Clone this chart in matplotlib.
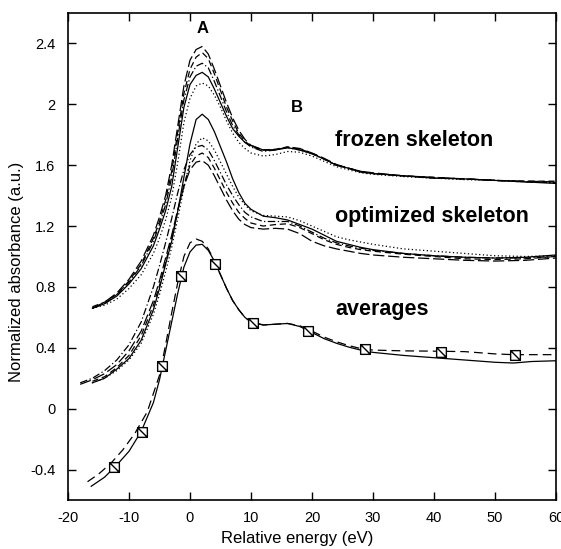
import numpy as np
import matplotlib
matplotlib.use("Agg")
import matplotlib.pyplot as plt
from matplotlib.path import Path

plt.rcParams['font.family'] = ['Liberation Sans', 'DejaVu Sans']
plt.rcParams['axes.unicode_minus'] = False

nan = np.nan

# ---- frozen skeleton ----
E_frz = [-16, -14, -12, -10, -8, -6, -5, -4, -3, -2, -1, 0, 1, 2, 3, 4, 5, 6, 7, 8, 9, 10,
         12, 14, 16, 18, 20, 22, 24, 26, 28, 30, 35, 40, 45, 50, 55, 60]
frz_solid = [0.66, 0.69, 0.74, 0.82, 0.92, 1.07, 1.18, 1.30, 1.46, 1.72, 1.98, 2.13, 2.19, 2.21, 2.18, 2.10,
             2.01, 1.92, 1.84, 1.79, 1.75, 1.73, 1.70, 1.70, 1.715, 1.70, 1.675, 1.64, 1.60, 1.58, 1.555,
             1.545, 1.53, 1.515, 1.51, 1.50, 1.49, 1.48]
frz_longdash = [0.66, 0.70, 0.76, 0.85, 0.97, 1.14, 1.26, 1.40, 1.60, 1.86, 2.12, 2.29, 2.36, 2.38, 2.33,
                2.23, 2.12, 2.01, 1.91, 1.83, 1.77, 1.73, 1.70, 1.70, 1.72, 1.71, 1.68, 1.645, 1.605, 1.58,
                1.56, 1.55, 1.53, 1.52, 1.51, 1.50, 1.495, 1.49]
frz_dashed = [0.67, 0.70, 0.75, 0.84, 0.95, 1.12, 1.23, 1.37, 1.56, 1.82, 2.07, 2.23, 2.31, 2.34, 2.30,
              2.20, 2.09, 1.98, 1.89, 1.81, 1.76, 1.72, 1.70, 1.705, 1.72, 1.705, 1.68, 1.64, 1.60, 1.58,
              1.56, 1.545, 1.53, 1.52, 1.51, 1.50, 1.495, 1.495]
frz_dashdot = [0.66, 0.69, 0.75, 0.83, 0.94, 1.10, 1.21, 1.34, 1.52, 1.78, 2.03, 2.18, 2.25, 2.27, 2.24,
               2.15, 2.05, 1.95, 1.86, 1.80, 1.75, 1.72, 1.69, 1.70, 1.715, 1.70, 1.675, 1.64, 1.60, 1.58,
               1.555, 1.545, 1.53, 1.515, 1.51, 1.50, 1.49, 1.485]
frz_dotted = [0.66, 0.68, 0.72, 0.79, 0.88, 1.02, 1.12, 1.24, 1.39, 1.62, 1.88, 2.04, 2.12, 2.14, 2.12,
              2.06, 1.98, 1.89, 1.81, 1.75, 1.71, 1.68, 1.66, 1.67, 1.69, 1.685, 1.66, 1.625, 1.59, 1.57,
              1.55, 1.54, 1.525, 1.515, 1.505, 1.50, 1.49, 1.485]

# ---- optimized skeleton ----
E_opt = [-18, -16, -14, -12, -10, -8, -6, -5, -4, -3, -2, -1, 0, 1, 2, 3, 4, 5, 6, 7, 8, 9, 10,
         12, 14, 16, 18, 20, 22, 24, 26, 28, 30, 35, 40, 45, 50, 55, 60]
opt_solid = [nan, 0.17, 0.20, 0.26, 0.33, 0.45, 0.65, 0.79, 0.95, 1.10, 1.30, 1.52, 1.74, 1.90, 1.935,
             1.90, 1.82, 1.72, 1.62, 1.51, 1.42, 1.35, 1.31, 1.265, 1.255, 1.24, 1.21, 1.18, 1.14, 1.10,
             1.08, 1.06, 1.045, 1.02, 1.005, 0.995, 0.99, 0.995, 1.01]
opt_dotted = [nan, 0.17, 0.20, 0.25, 0.32, 0.43, 0.62, 0.75, 0.90, 1.06, 1.25, 1.45, 1.63, 1.74, 1.78,
              1.76, 1.70, 1.62, 1.54, 1.46, 1.39, 1.34, 1.30, 1.27, 1.265, 1.26, 1.235, 1.20, 1.165, 1.13,
              1.11, 1.095, 1.08, 1.05, 1.035, 1.02, 1.005, 1.0, 1.005]
opt_dashed = [nan, 0.18, 0.21, 0.27, 0.35, 0.48, 0.68, 0.81, 0.96, 1.12, 1.30, 1.47, 1.60, 1.66, 1.68,
              1.65, 1.58, 1.50, 1.42, 1.35, 1.29, 1.25, 1.22, 1.20, 1.21, 1.215, 1.19, 1.15, 1.11, 1.08,
              1.06, 1.045, 1.035, 1.015, 1.0, 0.985, 0.98, 0.985, 1.0]
opt_longdash = [0.16, 0.19, 0.23, 0.29, 0.38, 0.51, 0.71, 0.84, 0.99, 1.14, 1.31, 1.46, 1.57, 1.62, 1.63,
                1.60, 1.53, 1.45, 1.37, 1.30, 1.245, 1.21, 1.19, 1.18, 1.185, 1.18, 1.15, 1.10, 1.07, 1.05,
                1.035, 1.02, 1.01, 0.995, 0.985, 0.975, 0.97, 0.975, 0.99]
opt_dashdot = [0.17, 0.20, 0.25, 0.32, 0.42, 0.57, 0.80, 0.94, 1.09, 1.25, 1.42, 1.57, 1.67, 1.72, 1.73,
               1.70, 1.63, 1.55, 1.47, 1.40, 1.34, 1.29, 1.26, 1.23, 1.23, 1.23, 1.20, 1.16, 1.12, 1.09,
               1.07, 1.055, 1.04, 1.02, 1.005, 0.995, 0.99, 0.99, 1.0]

# ---- averages ----
E_avg_solid = [-16.2, -14, -12, -10, -8, -6, -5, -4, -3, -2, -1, 0, 1, 2, 3, 4, 5, 6, 7, 8, 9, 10,
               12, 14, 16, 18, 20, 22, 24, 26, 28, 30, 35, 40, 45, 50, 53, 56, 60]
avg_solid = [-0.51, -0.45, -0.37, -0.28, -0.15, 0.04, 0.19, 0.38, 0.57, 0.76, 0.93, 1.03, 1.075, 1.08,
             1.04, 0.97, 0.88, 0.79, 0.71, 0.65, 0.60, 0.57, 0.55, 0.555, 0.56, 0.54, 0.50, 0.46, 0.43,
             0.405, 0.385, 0.37, 0.35, 0.335, 0.32, 0.305, 0.30, 0.31, 0.315]
E_avg_dashed = [-16.8, -15, -13, -11, -9, -7, -5, -4, -3, -2, -1, 0, 1, 2, 3, 4, 5, 6, 7, 8, 9, 10,
                12, 14, 16, 18, 20, 22, 24, 26, 28, 30, 35, 40, 45, 50, 53, 56, 60]
avg_dashed = [-0.48, -0.43, -0.36, -0.27, -0.16, -0.02, 0.22, 0.42, 0.63, 0.83, 1.00, 1.09, 1.115, 1.10,
              1.05, 0.97, 0.88, 0.79, 0.71, 0.65, 0.60, 0.57, 0.55, 0.555, 0.56, 0.545, 0.51, 0.47, 0.44,
              0.415, 0.395, 0.385, 0.38, 0.378, 0.375, 0.36, 0.355, 0.355, 0.355]
mk_E = [-12.4, -7.9, -4.6, -1.4, 4.1, 10.3, 19.4, 28.7, 41.1, 53.3]
mk_v = [-0.38, -0.15, 0.28, 0.87, 0.95, 0.56, 0.51, 0.39, 0.37, 0.35]

x_ticks = [-20, -10, 0, 10, 20, 30, 40, 50, 60]
y_ticks = [-0.4, 0, 0.4, 0.8, 1.2, 1.6, 2.0, 2.4]
y_ticklabels = ['-0.4', '0', '0.4', '0.8', '1.2', '1.6', '2', '2.4']

fig = plt.figure(figsize=(5.61, 5.49), dpi=100)
ax = fig.add_axes([68/561, 1-500/549, (556-68)/561, (500-13)/549])

lw = 0.9
ls_solid = '-'
ls_dashed = (0, (5, 3))
ls_long = (0, (9, 3))
ls_dot = (0, (1, 2))
ls_dashdot = (0, (6, 2, 1, 2))

for y, ls in [(frz_solid, ls_solid), (frz_longdash, ls_long), (frz_dashed, ls_dashed),
              (frz_dashdot, ls_dashdot), (frz_dotted, ls_dot)]:
    ax.plot(E_frz, y, color='black', lw=lw, linestyle=ls)

for y, ls in [(opt_solid, ls_solid), (opt_dotted, ls_dot), (opt_dashed, ls_dashed),
              (opt_longdash, ls_long), (opt_dashdot, ls_dashdot)]:
    ax.plot(E_opt, y, color='black', lw=lw, linestyle=ls)

ax.plot(E_avg_solid, avg_solid, color='black', lw=lw, linestyle='-')
ax.plot(E_avg_dashed, avg_dashed, color='black', lw=lw, linestyle=(0, (7, 4)))

verts = [(-1, -1), (1, -1), (1, 1), (-1, 1), (-1, -1), (-1, 1), (1, -1)]
codes = [Path.MOVETO, Path.LINETO, Path.LINETO, Path.LINETO, Path.CLOSEPOLY, Path.MOVETO, Path.LINETO]
sq_marker = Path(verts, codes)
ax.plot(mk_E, mk_v, linestyle='none', marker=sq_marker, markersize=7, markerfacecolor='white',
        markeredgecolor='black', markeredgewidth=1.0)

ax.set_xlim(-20, 60)
ax.set_ylim(-0.6, 2.6)
ax.set_xticks(x_ticks)
ax.set_yticks(y_ticks)
ax.set_yticklabels(y_ticklabels)
ax.tick_params(direction='in', length=6, width=1, top=True, right=True, labelsize=10.5)
ax.tick_params(axis='x', pad=8)
ax.tick_params(axis='y', pad=9)
ax.tick_params(labeltop=False, labelright=False)
for s in ax.spines.values():
    s.set_linewidth(1.2)

ax.set_xlabel('Relative energy (eV)', fontsize=12)
ax.set_ylabel('Normalized absorbance (a.u.)', fontsize=12)
ax.xaxis.set_label_coords((297-68)/488, -(531-500)/487)
ax.yaxis.set_label_coords(-(68-24)/488, (500-272)/487)

ax.text(2.0, 2.50, 'A', fontsize=12, fontweight='bold', ha='center', va='center')
ax.text(17.5, 1.98, 'B', fontsize=12, fontweight='bold', ha='center', va='center')
ax.text(23.8, 1.76, 'frozen skeleton', fontsize=15.5, fontweight='bold', ha='left', va='center')
ax.text(23.8, 1.265, 'optimized skeleton', fontsize=15.5, fontweight='bold', ha='left', va='center')
ax.text(23.8, 0.65, 'averages', fontsize=15.5, fontweight='bold', ha='left', va='center')

fig.savefig('out.png', dpi=100)
